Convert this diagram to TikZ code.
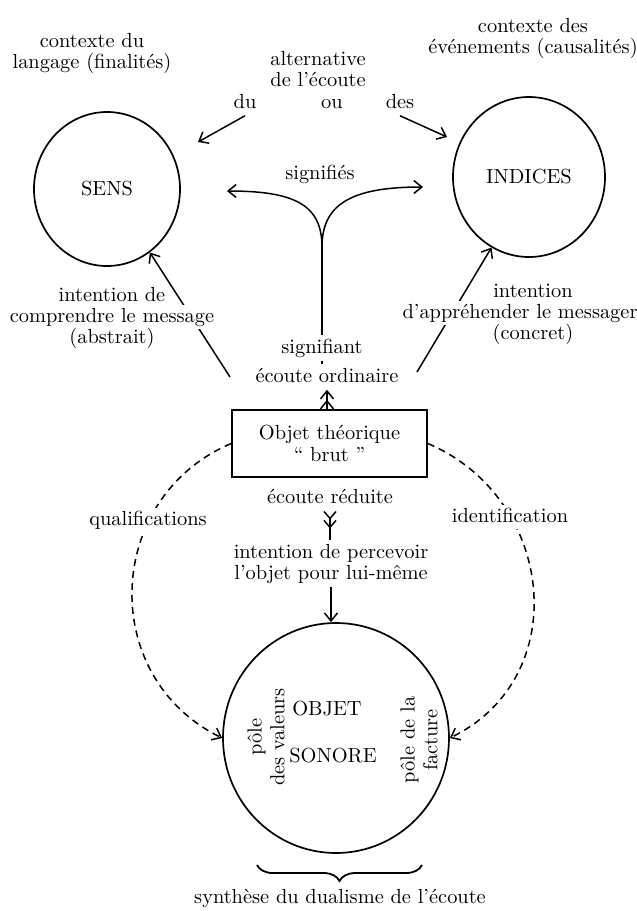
\documentclass[tikz,border=0pt]{standalone}
\usepackage{fontspec}
\usetikzlibrary{arrows.meta,shapes.geometric,decorations.pathreplacing}

\begin{document}
\begin{tikzpicture}[x=0.5pt,y=-0.5pt,node distance=10.7pt,line width=0.75pt,
        >={Straight Barb[length=4pt,width=6.5pt]},font=\fontsize{10.2}{11.4}\selectfont]
    \tikzstyle{pole}=[ellipse,draw,line width=0.85pt,inner sep=0pt]
    \tikzstyle{brut}=[rectangle,draw,line width=0.85pt,minimum width=97.5pt,minimum height=33.5pt,align=center,inner sep=2pt]
    \tikzstyle{lbl}=[inner sep=1.5pt,text height=7pt,text depth=2pt]
    \tikzstyle{mask}=[lbl,fill=white]
    \tikzstyle{dashedarc}=[dash pattern=on 3.5pt off 2.5pt]
    \tikzstyle{vert}=[rotate=90,align=center,inner sep=1pt]

    \useasboundingbox (0,0) rectangle (637,911);

    \node [pole,minimum width=73pt,minimum height=77pt] (sens) at (107,189) {SENS};
    \node [pole,minimum width=76pt,minimum height=80pt] (ind) at (529,177) {INDICES};
    \node [pole,minimum width=113pt,minimum height=115pt] (obj) at (336,738) {};
    \node [brut] (box) at (329.5,443.5) {Objet théorique\\“ brut ”};

    % les deux contextes
    \node [lbl] (cdu1) at (92,42) {contexte du};
    \node [lbl] (cdu2) [below of=cdu1] {langage (finalités)};
    \node [lbl] (cdes1) at (533,27) {contexte des};
    \node [lbl] (cdes2) [below of=cdes1] {événements (causalités)};

    % alternative
    \node [lbl] (alt1) at (318,60) {alternative};
    \node [lbl] (alt2) [below of=alt1] {de l'écoute};
    \node [lbl] (du) at (245,103) {du};
    \node [lbl] (ou) at (332,103) {ou};
    \node [lbl] (des) at (400,103) {des};
    \coordinate (tipdu) at (198,142);
    \coordinate (tipdes) at (447,137);
    \draw [->] (du.south) -- (tipdu);
    \draw [->] (des.south) -- (tipdes);

    % signifiant / signifies
    \node [lbl] (sgs) at (320,174) {signifiés};
    \node [lbl] (sig) at (322,348) {signifiant};
    \node [lbl] (ord) at (327,377) {écoute ordinaire};
    \coordinate (fork) at (322,247);
    \coordinate (tipl) at (227,191);
    \coordinate (tipr) at (423,187);
    \draw (sig.north) -- (fork);
    \draw [<->] (tipl) .. controls (295,191) and (322,205) .. (fork)
        .. controls (322,205) and (350,187) .. (tipr);
    \draw (sig.south) -- (sig.south |- ord.north);
    \draw [->>] (ord.south |- box.north) -- (ord.south);

    % intentions
    \node [lbl] (ia1) at (112,296) {intention de};
    \node [lbl] (ic1) at (533,292) {intention};
    \coordinate (ordl) at (230,377);
    \coordinate (ordr) at (417,372);
    \draw [->] (ordl) -- (sens.-56);
    \draw [->] (ordr) -- (ind.242);
    \node [mask] (ia2) [below of=ia1] {comprendre le message};
    \node [lbl] (ia3) [below of=ia2] {(abstrait)};
    \node [mask] (ic2) [below of=ic1,xshift=-6.5pt] {d'appréhender le messager};
    \node [lbl] (ic3) [below of=ic2,xshift=6.5pt] {(concret)};

    % ecoute reduite
    \node [lbl] (red) at (330,498) {écoute réduite};
    \node [lbl] (perc1) at (331,553) {intention de percevoir};
    \node [lbl] (perc2) [below of=perc1] {l'objet pour lui-même};
    \draw [{Straight Barb[length=3.5pt,width=6pt,reversed]Straight Barb[length=3.5pt,width=6pt,reversed]}-]
        (red.south) -- (red.south |- perc1.north);
    \draw [->] (perc2.south) -- (perc2.south |- obj.north);

    % qualifications / identification
    \draw [dashedarc,->] (box.west) to[out=203,in=154,looseness=1.2] (obj.west);
    \draw [dashedarc,->] (box.east) to[out=-23,in=26,looseness=1.2] (obj.east);
    \node [mask] (qual) at (148,520) {qualifications};
    \node [mask] (ident) at (510,517) {identification};

    % objet sonore
    \node [lbl] (ob1) at (327,710) {OBJET};
    \node [lbl] (ob2) at (333,757) {SONORE};
    \node [vert] (pv) at (266,737) {pôle\\des valeurs};
    \node [vert] (pf) at (419,740) {pôle de la\\facture};

    \coordinate (br1) at (257,865);
    \coordinate (br2) at (422,865);
    \draw [decorate,decoration={brace,mirror,amplitude=8pt},line width=0.9pt] (br1) -- (br2);
    \node [lbl] (syn) at (340,898) {synthèse du dualisme de l'écoute};
\end{tikzpicture}
\end{document}
